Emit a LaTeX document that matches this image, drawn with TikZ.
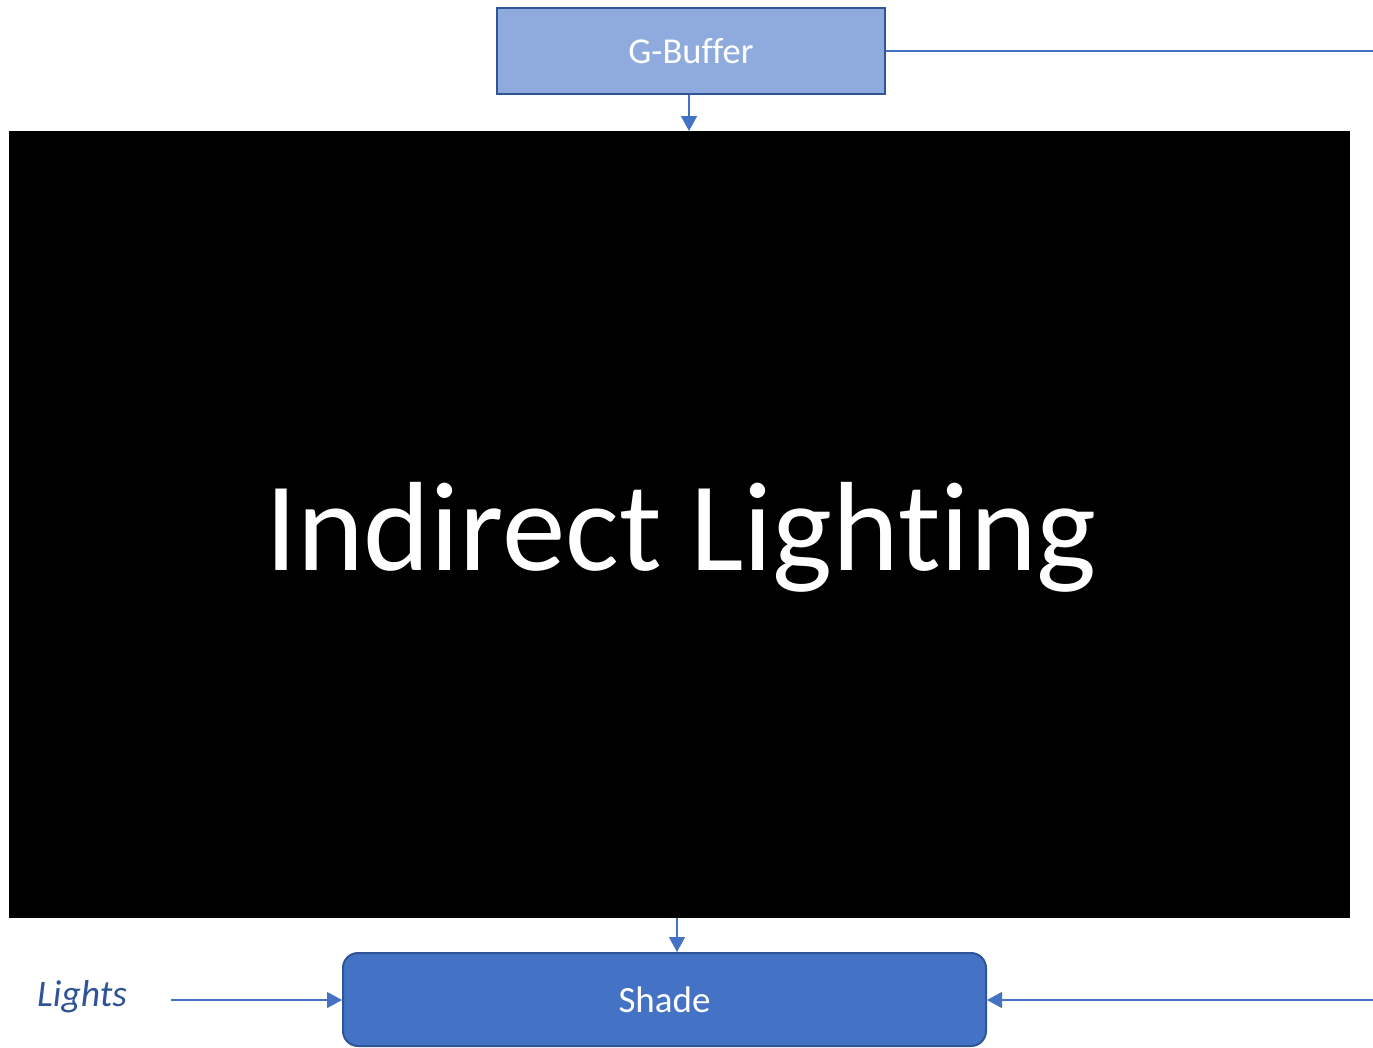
\documentclass[tikz,border=0pt]{standalone}
\usepackage{fontspec}
\setmainfont[Ligatures=NoCommon]{Carlito}
\usetikzlibrary{arrows.meta}
\definecolor{accent}{HTML}{4472C4}
\definecolor{darkb}{HTML}{2F5597}
\definecolor{lightb}{HTML}{8FAADC}
\tikzset{
  conn/.style={draw=accent, line width=1.5pt},
  arr/.style={conn, -{Triangle[length=15pt,width=16pt]}},
  gbox/.style={draw=darkb, fill=lightb, line width=2pt, minimum width=388pt, minimum height=86pt, inner sep=0pt, text=white, font=\fontsize{36.5}{40}\selectfont},
  sbox/.style={draw=darkb, fill=accent, line width=2pt, rounded corners=15pt, minimum width=643pt, minimum height=93pt, inner sep=0pt, text=white, font=\fontsize{37}{40}\selectfont},
  lbl/.style={text=darkb, font=\fontsize{37.5}{40}\selectfont\itshape, inner sep=0pt}
}
\begin{document}
\begin{tikzpicture}[x=1pt,y=-1pt]
\useasboundingbox (0,0) rectangle (1373,1047);
\node[gbox] (gb) at (691,51) {G-Buffer};
\node[fill=black, minimum width=1341pt, minimum height=787pt, inner sep=0pt, anchor=north west] (il) at (9,131) {};
\node[text=white, font=\fontsize{127}{140}\selectfont, anchor=base, inner sep=0pt] (iltxt) at (681,570) {Indirect Lighting};
\node[sbox] (sh) at (664.5,999.5) {Shade};
\node[lbl, anchor=base west] (li) at (37,1006) {Lights};
\coordinate (gbr) at (1373,51);
\coordinate (lstart) at (171,1000);
\coordinate (rstart) at (1373,1000);
\draw[arr] (gb.south -| 689,0) -- (689,131);
\draw[conn] (gb.east) -- (gbr);
\draw[arr] (677,918) -- (sh.north -| 677,0);
\draw[arr] (lstart) -- (sh.west |- lstart);
\draw[arr] (rstart) -- (sh.east |- rstart);
\end{tikzpicture}
\end{document}
